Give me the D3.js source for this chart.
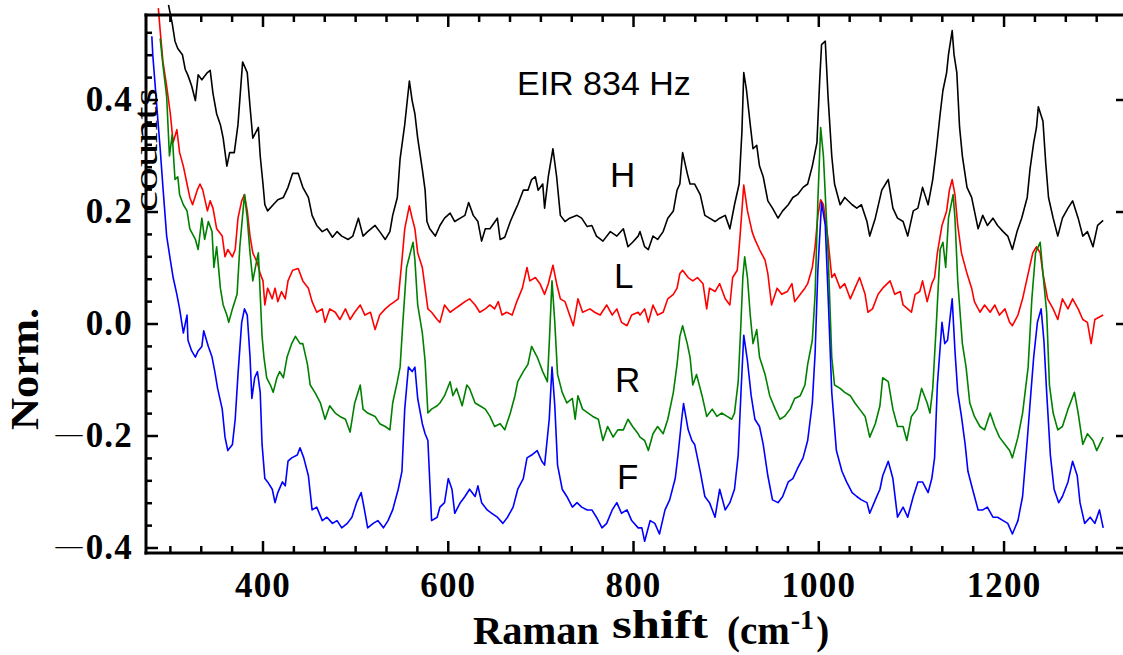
<!DOCTYPE html>
<meta charset="utf-8">
<style>
  body { margin: 0; background: #fff; }
  .serif { font-family: "Liberation Serif", "Times New Roman", serif; font-weight: bold; }
  .sans { font-family: "Liberation Sans", Arial, sans-serif; }
  .trace { fill: none; stroke-width: 1.6; stroke-linejoin: round; }
</style>
<body>
<script src="https://cdn.jsdelivr.net/npm/d3@7"></script>
<script>
var width = 1123, height = 655;

// Raman shift (cm-1), normalised counts
var traceH = [[298,0.570],[302,0.537],[305,0.505],[308,0.492],[313,0.481],[316,0.455],[319,0.444],[323,0.425],[327,0.399],[330,0.445],[334,0.436],[340,0.449],[343,0.453],[346,0.412],[350,0.375],[354,0.356],[357,0.332],[361,0.282],[364,0.306],[369,0.306],[373,0.356],[378,0.468],[383,0.449],[386,0.388],[389,0.332],[395,0.351],[397,0.300],[400,0.250],[402,0.213],[405,0.202],[411,0.213],[416,0.222],[422,0.226],[427,0.244],[432,0.269],[438,0.269],[443,0.244],[449,0.226],[453,0.194],[458,0.176],[464,0.165],[469,0.170],[475,0.155],[480,0.165],[485,0.157],[492,0.151],[497,0.157],[503,0.189],[508,0.157],[513,0.165],[521,0.176],[526,0.165],[532,0.151],[537,0.165],[540,0.194],[545,0.226],[548,0.295],[553,0.356],[558,0.434],[561,0.399],[564,0.375],[567,0.332],[572,0.276],[575,0.239],[577,0.183],[580,0.170],[586,0.157],[591,0.176],[596,0.189],[602,0.198],[607,0.183],[613,0.189],[618,0.194],[622,0.217],[627,0.194],[632,0.183],[636,0.148],[640,0.170],[645,0.170],[653,0.189],[656,0.151],[661,0.155],[667,0.183],[672,0.202],[675,0.213],[681,0.239],[686,0.239],[690,0.258],[694,0.263],[697,0.239],[702,0.250],[704,0.207],[708,0.263],[713,0.313],[717,0.263],[721,0.194],[726,0.183],[731,0.189],[739,0.194],[744,0.189],[750,0.174],[755,0.176],[760,0.157],[767,0.148],[775,0.165],[782,0.157],[789,0.170],[794,0.138],[799,0.146],[805,0.157],[807,0.165],[812,0.138],[816,0.133],[821,0.157],[826,0.151],[832,0.165],[837,0.189],[843,0.202],[847,0.239],[850,0.250],[853,0.306],[858,0.269],[861,0.250],[866,0.250],[872,0.231],[877,0.194],[882,0.189],[888,0.183],[893,0.189],[899,0.194],[904,0.170],[909,0.213],[914,0.250],[917,0.343],[919,0.449],[922,0.417],[926,0.356],[929,0.313],[933,0.319],[936,0.282],[940,0.263],[945,0.220],[950,0.207],[956,0.189],[961,0.202],[967,0.213],[972,0.226],[977,0.231],[983,0.244],[988,0.250],[993,0.282],[998,0.324],[1001,0.436],[1003,0.499],[1007,0.505],[1010,0.406],[1014,0.300],[1017,0.250],[1023,0.213],[1028,0.226],[1036,0.213],[1041,0.207],[1046,0.213],[1052,0.183],[1055,0.157],[1061,0.189],[1068,0.239],[1075,0.258],[1080,0.207],[1085,0.189],[1091,0.183],[1096,0.157],[1102,0.202],[1107,0.207],[1112,0.244],[1118,0.213],[1123,0.258],[1127,0.313],[1131,0.375],[1134,0.417],[1138,0.449],[1140,0.481],[1144,0.524],[1146,0.481],[1149,0.449],[1152,0.351],[1155,0.300],[1160,0.244],[1165,0.226],[1168,0.202],[1172,0.170],[1177,0.194],[1182,0.176],[1188,0.189],[1193,0.176],[1199,0.165],[1204,0.157],[1209,0.133],[1214,0.165],[1219,0.189],[1225,0.226],[1228,0.276],[1232,0.324],[1235,0.351],[1237,0.388],[1242,0.362],[1245,0.287],[1248,0.226],[1253,0.189],[1258,0.157],[1263,0.189],[1269,0.207],[1274,0.220],[1280,0.189],[1285,0.157],[1290,0.165],[1296,0.138],[1301,0.176],[1307,0.185]];

var traceL = [[287,0.564],[289,0.524],[292,0.468],[296,0.425],[300,0.375],[303,0.324],[307,0.347],[310,0.306],[314,0.282],[318,0.250],[321,0.226],[324,0.213],[329,0.239],[332,0.250],[335,0.239],[340,0.202],[343,0.220],[346,0.207],[350,0.170],[356,0.157],[359,0.120],[362,0.133],[367,0.120],[370,0.133],[373,0.189],[377,0.220],[380,0.231],[383,0.202],[386,0.157],[389,0.127],[394,0.109],[397,0.090],[400,0.077],[402,0.034],[405,0.064],[410,0.045],[413,0.064],[416,0.040],[420,0.058],[424,0.045],[427,0.077],[432,0.096],[438,0.099],[443,0.077],[449,0.064],[453,0.040],[458,0.021],[464,0.027],[467,0.003],[472,0.027],[478,0.021],[483,0.008],[489,0.027],[494,0.008],[499,0.021],[505,0.034],[510,0.016],[516,0.021],[521,-0.010],[526,0.016],[532,0.027],[537,0.034],[542,0.040],[546,0.045],[550,0.114],[553,0.170],[558,0.211],[561,0.189],[564,0.170],[567,0.127],[572,0.101],[575,0.064],[578,0.027],[582,0.021],[588,0.008],[591,0.003],[596,0.034],[602,0.021],[607,0.027],[613,0.034],[618,0.040],[623,0.045],[629,0.034],[634,0.021],[640,0.027],[645,0.034],[650,0.027],[654,0.040],[658,0.016],[663,0.021],[669,0.016],[674,0.040],[680,0.064],[685,0.101],[688,0.077],[694,0.083],[699,0.072],[704,0.053],[708,0.072],[713,0.105],[717,0.072],[721,0.045],[726,0.040],[731,0.016],[735,-0.003],[740,0.045],[745,0.021],[753,0.027],[758,0.021],[764,0.016],[771,0.034],[777,0.016],[782,0.027],[787,0.003],[793,-0.003],[798,0.016],[805,0.021],[807,0.016],[812,0.027],[816,0.003],[821,0.034],[826,0.016],[832,0.021],[837,0.045],[843,0.053],[847,0.064],[850,0.090],[853,0.096],[859,0.083],[864,0.077],[869,0.083],[875,0.072],[879,0.027],[882,0.064],[888,0.058],[893,0.072],[899,0.045],[904,0.034],[907,0.083],[912,0.096],[915,0.157],[919,0.248],[923,0.202],[928,0.165],[931,0.151],[936,0.133],[942,0.114],[945,0.090],[949,0.034],[955,0.064],[960,0.053],[966,0.058],[971,0.072],[974,0.040],[980,0.053],[985,0.064],[988,0.072],[993,0.101],[996,0.138],[999,0.194],[1002,0.222],[1005,0.213],[1010,0.151],[1014,0.083],[1017,0.090],[1023,0.064],[1028,0.072],[1034,0.045],[1039,0.064],[1044,0.083],[1050,0.053],[1053,0.021],[1058,0.027],[1064,0.053],[1069,0.064],[1077,0.077],[1082,0.053],[1088,0.058],[1091,0.034],[1096,0.027],[1100,0.021],[1104,0.053],[1109,0.058],[1112,0.077],[1117,0.040],[1122,0.072],[1125,0.083],[1128,0.127],[1133,0.176],[1138,0.202],[1141,0.239],[1144,0.258],[1147,0.231],[1150,0.176],[1154,0.127],[1160,0.090],[1165,0.064],[1168,0.040],[1174,0.021],[1179,0.034],[1185,0.021],[1190,0.034],[1195,0.016],[1201,0.027],[1206,0.003],[1209,-0.003],[1215,0.016],[1220,0.045],[1226,0.090],[1231,0.127],[1235,0.138],[1239,0.127],[1242,0.090],[1247,0.045],[1253,0.027],[1258,0.008],[1263,0.045],[1269,0.027],[1274,0.045],[1280,0.027],[1285,0.008],[1290,0.003],[1294,-0.035],[1298,0.008],[1307,0.016]];

var traceR = [[289,0.510],[292,0.462],[296,0.406],[299,0.300],[302,0.338],[305,0.258],[308,0.263],[310,0.231],[314,0.213],[318,0.202],[321,0.170],[327,0.151],[330,0.133],[334,0.189],[337,0.151],[341,0.183],[345,0.165],[347,0.101],[350,0.138],[354,0.064],[357,0.034],[361,0.016],[363,0.003],[367,0.027],[372,0.053],[375,0.138],[380,0.231],[383,0.189],[386,0.127],[389,0.077],[394,0.120],[395,0.127],[397,0.053],[399,-0.022],[401,-0.059],[404,-0.096],[408,-0.109],[411,-0.122],[415,-0.096],[418,-0.085],[422,-0.096],[426,-0.059],[431,-0.035],[435,-0.022],[440,-0.035],[443,-0.035],[448,-0.072],[451,-0.109],[456,-0.122],[462,-0.141],[467,-0.170],[472,-0.146],[478,-0.159],[483,-0.165],[489,-0.170],[494,-0.193],[499,-0.141],[505,-0.109],[508,-0.152],[513,-0.159],[521,-0.165],[526,-0.178],[532,-0.183],[537,-0.189],[540,-0.141],[545,-0.103],[548,-0.077],[551,0.003],[555,0.101],[559,0.127],[562,0.146],[564,0.114],[567,0.034],[572,-0.016],[575,-0.066],[578,-0.159],[582,-0.152],[588,-0.146],[591,-0.141],[596,-0.128],[602,-0.103],[605,-0.128],[609,-0.115],[615,-0.146],[620,-0.109],[623,-0.115],[629,-0.141],[634,-0.146],[640,-0.152],[645,-0.165],[650,-0.183],[656,-0.178],[661,-0.189],[667,-0.159],[672,-0.128],[675,-0.103],[681,-0.085],[686,-0.072],[690,-0.040],[696,-0.059],[699,-0.072],[702,-0.085],[707,-0.103],[709,-0.035],[712,0.077],[715,0.003],[718,-0.090],[723,-0.122],[728,-0.141],[734,-0.133],[737,-0.170],[740,-0.128],[745,-0.152],[751,-0.159],[756,-0.165],[762,-0.170],[767,-0.208],[772,-0.183],[778,-0.202],[783,-0.189],[789,-0.189],[794,-0.170],[799,-0.183],[805,-0.196],[807,-0.202],[812,-0.208],[816,-0.226],[821,-0.196],[826,-0.183],[832,-0.196],[837,-0.170],[843,-0.122],[847,-0.072],[850,-0.022],[853,-0.003],[858,-0.035],[861,-0.059],[864,-0.109],[868,-0.090],[874,-0.128],[879,-0.165],[885,-0.152],[890,-0.165],[895,-0.159],[901,-0.165],[906,-0.170],[909,-0.159],[913,-0.103],[916,0.003],[918,0.083],[920,0.120],[923,0.083],[926,0.016],[929,-0.035],[933,-0.010],[936,-0.059],[942,-0.090],[947,-0.128],[953,-0.152],[958,-0.170],[963,-0.165],[969,-0.152],[974,-0.133],[980,-0.128],[985,-0.109],[988,-0.072],[993,-0.029],[996,0.053],[999,0.220],[1002,0.351],[1005,0.300],[1010,0.127],[1014,-0.059],[1017,-0.109],[1023,-0.115],[1028,-0.122],[1034,-0.128],[1039,-0.141],[1044,-0.152],[1050,-0.165],[1055,-0.202],[1061,-0.178],[1066,-0.146],[1069,-0.096],[1075,-0.103],[1080,-0.152],[1085,-0.183],[1091,-0.183],[1095,-0.208],[1100,-0.165],[1106,-0.152],[1111,-0.115],[1117,-0.141],[1120,-0.159],[1123,-0.115],[1127,0.003],[1131,0.133],[1134,0.146],[1137,0.101],[1140,0.189],[1145,0.231],[1147,0.189],[1150,0.077],[1155,-0.035],[1159,-0.077],[1163,-0.141],[1168,-0.165],[1174,-0.183],[1179,-0.189],[1185,-0.159],[1190,-0.183],[1195,-0.202],[1201,-0.215],[1206,-0.226],[1209,-0.239],[1215,-0.202],[1220,-0.159],[1226,-0.077],[1230,0.045],[1234,0.127],[1239,0.146],[1242,0.090],[1246,0.021],[1249,-0.109],[1253,-0.159],[1258,-0.189],[1263,-0.183],[1269,-0.152],[1276,-0.122],[1280,-0.159],[1285,-0.215],[1290,-0.196],[1296,-0.208],[1300,-0.226],[1307,-0.202]];

var traceF = [[280,0.514],[281,0.481],[286,0.375],[289,0.313],[292,0.244],[296,0.157],[300,0.114],[303,0.083],[307,0.053],[310,0.027],[314,-0.016],[318,0.016],[319,-0.029],[323,-0.048],[327,-0.059],[330,-0.048],[334,-0.040],[336,-0.012],[341,-0.040],[345,-0.059],[348,-0.085],[351,-0.115],[356,-0.152],[359,-0.202],[362,-0.226],[367,-0.215],[370,-0.170],[373,-0.090],[377,0.003],[380,0.027],[383,0.016],[386,-0.059],[388,-0.133],[391,-0.096],[394,-0.085],[397,-0.122],[399,-0.215],[402,-0.276],[405,-0.282],[410,-0.295],[413,-0.319],[416,-0.301],[421,-0.282],[424,-0.289],[427,-0.245],[431,-0.239],[437,-0.234],[440,-0.221],[444,-0.239],[449,-0.271],[453,-0.332],[458,-0.327],[464,-0.351],[469,-0.345],[475,-0.356],[480,-0.351],[485,-0.364],[491,-0.356],[496,-0.345],[501,-0.319],[506,-0.301],[509,-0.327],[513,-0.364],[519,-0.356],[524,-0.351],[530,-0.364],[535,-0.351],[540,-0.332],[546,-0.295],[550,-0.263],[553,-0.152],[557,-0.077],[561,-0.085],[564,-0.077],[567,-0.133],[572,-0.178],[575,-0.196],[578,-0.208],[582,-0.351],[588,-0.345],[591,-0.327],[596,-0.319],[600,-0.276],[604,-0.295],[607,-0.338],[613,-0.319],[618,-0.308],[623,-0.295],[629,-0.308],[632,-0.289],[636,-0.319],[642,-0.332],[647,-0.338],[653,-0.345],[659,-0.356],[664,-0.345],[670,-0.327],[675,-0.295],[681,-0.276],[685,-0.239],[690,-0.234],[696,-0.226],[701,-0.245],[704,-0.252],[709,-0.170],[712,-0.077],[715,-0.146],[718,-0.252],[723,-0.295],[728,-0.308],[734,-0.327],[739,-0.319],[744,-0.327],[750,-0.332],[755,-0.332],[760,-0.345],[766,-0.364],[771,-0.356],[777,-0.332],[782,-0.319],[787,-0.338],[793,-0.332],[798,-0.351],[805,-0.364],[809,-0.364],[812,-0.388],[818,-0.351],[823,-0.356],[828,-0.375],[834,-0.332],[839,-0.314],[845,-0.276],[848,-0.234],[852,-0.170],[854,-0.142],[859,-0.189],[863,-0.208],[866,-0.215],[872,-0.263],[877,-0.308],[882,-0.319],[888,-0.345],[893,-0.295],[899,-0.332],[904,-0.319],[909,-0.295],[913,-0.234],[916,-0.122],[919,-0.020],[923,-0.066],[927,-0.128],[931,-0.170],[936,-0.183],[940,-0.215],[945,-0.271],[950,-0.314],[956,-0.319],[961,-0.308],[967,-0.282],[972,-0.276],[977,-0.258],[983,-0.239],[988,-0.208],[993,-0.141],[996,-0.053],[999,0.096],[1003,0.217],[1007,0.176],[1010,0.053],[1014,-0.122],[1019,-0.226],[1025,-0.263],[1030,-0.282],[1036,-0.301],[1041,-0.308],[1046,-0.314],[1052,-0.319],[1055,-0.338],[1061,-0.314],[1066,-0.295],[1069,-0.271],[1075,-0.245],[1080,-0.276],[1085,-0.345],[1091,-0.327],[1096,-0.345],[1102,-0.308],[1107,-0.282],[1112,-0.282],[1118,-0.301],[1122,-0.276],[1125,-0.239],[1128,-0.109],[1133,0.003],[1136,-0.035],[1139,-0.029],[1144,0.045],[1147,-0.048],[1150,-0.122],[1154,-0.165],[1158,-0.215],[1161,-0.263],[1166,-0.295],[1172,-0.332],[1177,-0.332],[1182,-0.327],[1188,-0.345],[1193,-0.345],[1199,-0.351],[1204,-0.356],[1209,-0.375],[1215,-0.351],[1220,-0.308],[1225,-0.208],[1229,-0.122],[1232,-0.059],[1236,0.003],[1240,0.027],[1243,-0.029],[1246,-0.122],[1250,-0.234],[1254,-0.295],[1259,-0.319],[1263,-0.308],[1269,-0.282],[1274,-0.245],[1279,-0.271],[1282,-0.319],[1287,-0.356],[1293,-0.345],[1298,-0.356],[1303,-0.332],[1307,-0.364]];

var seriesNames = ["H", "L", "R", "F"];
var seriesColors = ["#000000", "#ff0000", "#008000", "#0000ff"];
var seriesData = [traceH, traceL, traceR, traceF];

var xMajor = [400, 600, 800, 1000, 1200];
var xTickLabels = ["400", "600", "800", "1000", "1200"];
var yMajor = [-0.4, -0.2, 0.0, 0.2, 0.4];
var yTickLabels = ["-0.4", "-0.2", "0.0", "0.2", "0.4"];

var svg = d3.select("body").append("svg")
  .attr("width", width)
  .attr("height", height)
  .style("background", "#fff");

// plot box: right edge sits just past the window like the original
var boxLeft = 146, boxRight = 1128, boxTop = 15, boxBottom = 553;
var x = d3.scaleLinear().domain([273.7, 1333.8]).range([boxLeft, boxRight]);
var y = d3.scaleLinear().domain([-0.4089, 0.5518]).range([boxBottom, boxTop]);

var xMinor = d3.range(300, 1334, 200 / 6).filter(function(v) { return Math.abs(v % 200) > 1 && Math.abs(v % 200 - 200) > 1; });
var yMinor = d3.range(-0.36, 0.55, 0.04).filter(function(v) { return Math.abs(Math.round(v / 0.2) * 0.2 - v) > 0.005; });

// traces
var line = d3.line()
  .x(function(d) { return x(d[0]); })
  .y(function(d) { return y(d[1]); });

svg.selectAll("path.trace")
  .data(seriesData)
  .join("path")
  .attr("class", "trace")
  .attr("stroke", function(d, i) { return seriesColors[i]; })
  .attr("d", line);

// frame
var axes = svg.append("g").attr("stroke", "#000").attr("stroke-linecap", "square");
axes.append("line").attr("x1", boxLeft).attr("x2", boxRight).attr("y1", boxTop).attr("y2", boxTop).attr("stroke-width", 3);
axes.append("line").attr("x1", boxLeft).attr("x2", boxRight).attr("y1", boxBottom).attr("y2", boxBottom).attr("stroke-width", 3);
axes.append("line").attr("x1", boxLeft).attr("x2", boxLeft).attr("y1", boxTop).attr("y2", boxBottom).attr("stroke-width", 3);

var ticks = svg.append("g").attr("stroke", "#000").attr("stroke-width", 2.5);
function xTicks(vals, len) {
  vals.forEach(function(v) {
    ticks.append("line").attr("x1", x(v)).attr("x2", x(v)).attr("y1", boxBottom).attr("y2", boxBottom - len);
    ticks.append("line").attr("x1", x(v)).attr("x2", x(v)).attr("y1", boxTop).attr("y2", boxTop + len);
  });
}
xTicks(xMajor, 12);
xTicks(xMinor, 7);
yMajor.forEach(function(v) {
  ticks.append("line").attr("x1", boxLeft).attr("x2", boxLeft + 12).attr("y1", y(v)).attr("y2", y(v));
  ticks.append("line").attr("x1", boxRight).attr("x2", boxRight - 12).attr("y1", y(v)).attr("y2", y(v));
});
yMinor.forEach(function(v) {
  ticks.append("line").attr("x1", boxLeft).attr("x2", boxLeft + 6).attr("y1", y(v)).attr("y2", y(v));
});

// tick labels
svg.selectAll("text.xlab")
  .data(xMajor)
  .join("text")
  .attr("class", "xlab serif")
  .attr("x", function(d) { return x(d); })
  .attr("y", 597)
  .attr("text-anchor", "middle")
  .attr("font-size", 35)
  .attr("letter-spacing", 1.2)
  .text(function(d, i) { return xTickLabels[i]; });

var ylab = svg.selectAll("text.ylab")
  .data(yMajor)
  .join("text")
  .attr("class", "ylab serif")
  .attr("x", 133)
  .attr("y", function(d) { return y(d) + 11; })
  .attr("text-anchor", "end")
  .attr("font-size", 35)
  .attr("letter-spacing", 1.2);
ylab.each(function(d, i) {
  var t = d3.select(this), s = yTickLabels[i];
  if (s.charAt(0) === "-") {
    t.append("tspan").attr("font-weight", "normal").attr("font-size", 27).attr("dy", -5).text("\u2014");
    t.append("tspan").attr("dy", 5).attr("dx", 2).text(s.slice(1));
  } else {
    t.text(s);
  }
});

// axis titles
svg.append("text")
  .attr("class", "serif")
  .attr("transform", "translate(38,369) rotate(-90)")
  .attr("text-anchor", "middle")
  .attr("font-size", 39)
  .attr("textLength", 122)
  .attr("lengthAdjust", "spacingAndGlyphs")
  .text("Norm.");

svg.append("text")
  .attr("transform", "translate(157,150) rotate(-90)")
  .attr("text-anchor", "middle")
  .attr("font-family", "Liberation Serif, serif")
  .attr("font-size", 33)
  .attr("textLength", 124)
  .attr("lengthAdjust", "spacingAndGlyphs")
  .text("counts");

var xt = svg.append("g").attr("class", "serif").attr("font-size", 39);
xt.append("text").attr("x", 473).attr("y", 644).attr("textLength", 126).attr("lengthAdjust", "spacingAndGlyphs").text("Raman");
xt.append("text").attr("x", 612).attr("y", 638).attr("textLength", 96).attr("lengthAdjust", "spacingAndGlyphs").text("shift");
var cm = xt.append("text").attr("x", 727).attr("y", 644);
cm.append("tspan").text("(cm");
cm.append("tspan").attr("font-size", 28).attr("dy", -15).attr("dx", 1).text("-1");
cm.append("tspan").attr("dy", 15).attr("dx", 2).text(")");

// annotations
svg.append("text")
  .attr("class", "sans")
  .attr("x", 517).attr("y", 95)
  .attr("font-size", 34)
  .text("EIR 834 Hz");

var labelPos = [[610, 187], [614, 288], [615, 392], [617, 489]];
svg.selectAll("text.tag")
  .data(seriesNames)
  .join("text")
  .attr("class", "tag sans")
  .attr("x", function(d, i) { return labelPos[i][0]; })
  .attr("y", function(d, i) { return labelPos[i][1]; })
  .attr("font-size", 35)
  .text(function(d) { return d; });
</script>
</body>
